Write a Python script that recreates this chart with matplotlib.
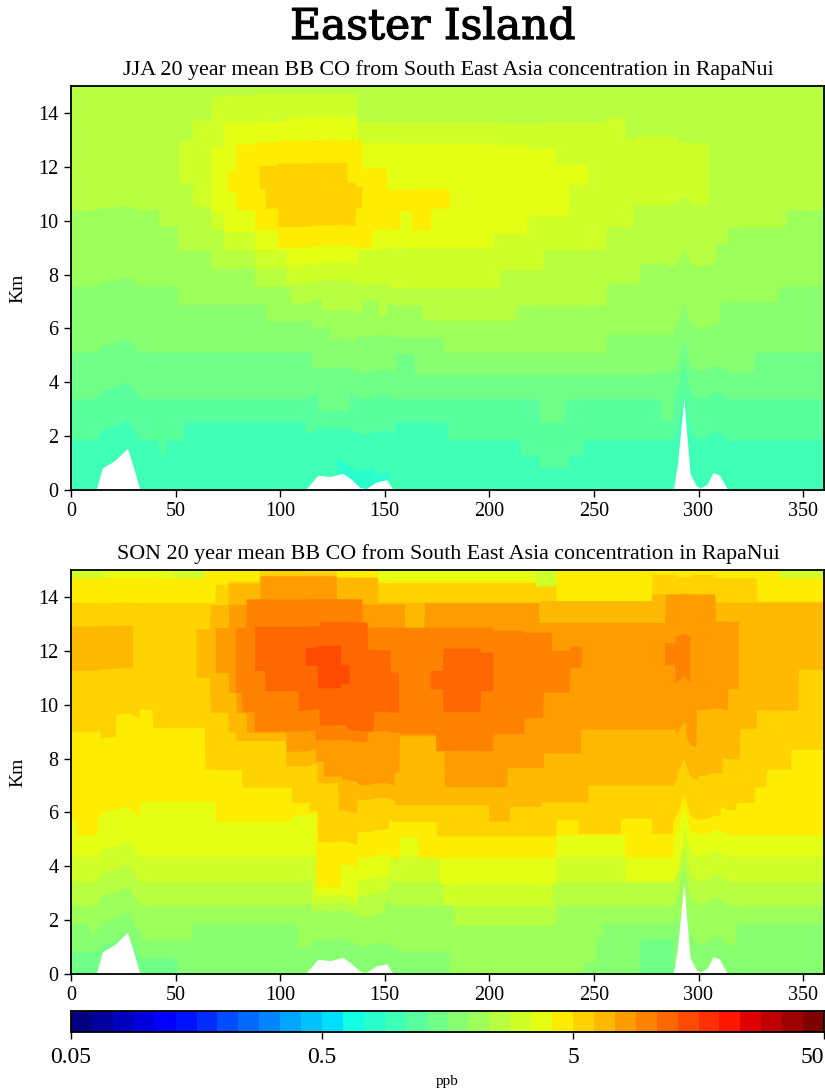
import numpy as np
import matplotlib
matplotlib.use("Agg")
import matplotlib.pyplot as plt
import matplotlib.patheffects as pe
from matplotlib.colors import BoundaryNorm, ListedColormap

nan = float("nan")
W, H = 825, 1091

terrain_lon = [0, 12, 15, 21, 27, 30, 33, 112, 118, 124, 130, 134, 138, 141, 146, 151, 154,
               288, 290, 293, 295, 296, 299, 301, 304, 307, 310, 314, 360]
terrain_km = [0, 0, .82, 1.1, 1.55, .8, 0, 0, .55, .5, .62, .4, .1, .05, .3, .38, 0,
              0, 1, 3.4, 1.5, .6, .15, .08, .2, .65, .55, 0, 0]

x_ticks = [0, 50, 100, 150, 200, 250, 300, 350]
y_ticks = [0, 2, 4, 6, 8, 10, 12, 14]
bar_ticks = [0.05, 0.5, 5, 50]
bar_tick_labels = ["0.05", "0.5", "5", "50"]

# Band limits per longitude span: (band, lon edges of lower limit, lower km, lon edges of upper limit, upper km)
jja_15_lon = [0, 360]; jja_15_low = [0]; jja_15_up = [15]
jja_14_lon = [127, 130, 139, 145, 152]; jja_14_low = [0, 0, 0, 0]; jja_14_up = [.8, .65, .75, .45]
jja_16_lon = [0, 42, 45, 54, 112, 155, 180, 215, 224, 238, 245, 360]
jja_16_low = [1.85, 1.3, 1.85, 2.53, 2.05, 2.53, 1.85, 1.3, .83, 1.3, 1.85]
jja_17_lon = [0, 118, 133, 224, 236, 282, 288, 360]
jja_17_low = [3.38, 2.7, 3.38, 2.53, 3.38, 2.6, 3.38]
jja_18_lon = [0, 115, 155, 164, 280, 327, 360]
jja_18_low = [5.12, 4.35, 5.05, 4.3, 4.4, 5.12]
jja_19_lon = [0, 51, 93, 115, 124, 136, 178, 256, 288, 310, 314, 338, 360]
jja_19_low = [7.57, 6.9, 6.27, 5.88, 5.45, 5.68, 5.1, 5.78, 6.0, 6.9, 7.0, 7.57]
jja_20_lon = [0, 42, 51, 67, 88, 105, 120, 139, 147, 151, 168, 213, 256, 272, 285, 308, 314, 342, 360]
jja_20_low = [10.4, 9.8, 8.9, 8.24, 7.55, 6.95, 6.56, 7.0, 6.4, 6.87, 6.3, 6.87, 7.68, 8.4, 8.3, 9.1, 9.77, 10.4]
jja_21_lon = [51.5, 58, 67, 73, 88, 103, 137, 151, 205, 226, 256, 265, 269, 290, 305]
jja_21_up = [13.0, 13.74, 14.61, 14.67, 14.73, 14.73, 13.68, 13.68, 13.62, 13.68, 13.87, 13.06, 13.13, 12.88]
jja_21_low = [11.39, 10.53, 9.66, 8.92, 8.24, 7.68, 7.6, 7.5, 8.18, 8.92, 9.78, 9.78, 10.59, 10.59]
jja_22_lon = [67, 73, 88, 103, 137, 151, 202, 218, 232, 238, 247]
jja_22_up = [12.75, 13.65, 13.68, 13.87, 12.88, 12.88, 12.82, 12.69, 12.1, 12.1]
jja_22_low = [10.34, 9.6, 8.92, 8.36, 8.9, 9.0, 9.54, 10.2, 10.2, 11.33]
jja_23_lon = [75, 79, 88, 99, 103, 139, 144, 151, 157, 163, 172, 181]
jja_23_up = [11.89, 12.85, 12.94, 13.0, 13.0, 11.95, 11.95, 11.15, 11.15, 11.2, 11.2]
jja_23_low = [11.1, 10.4, 9.66, 9.0, 9.0, 9.0, 9.66, 9.66, 10.34, 9.66, 10.47]
jja_24_lon = [90, 93, 99, 132, 136, 139]
jja_24_up = [12.05, 12.05, 12.14, 11.39, 11.27]
jja_24_low = [11.2, 10.47, 9.78, 9.78, 10.47]

son_17_lon = [0, 360]; son_17_low = [0]; son_17_up = [15]
son_18_lon = [0, 13, 51, 272, 288, 360]; son_18_low = [.83, .6, 0, 1.29, 0]
son_19_lon = [0, 9, 34, 58, 108, 157, 181, 245, 251, 254, 290, 318, 360]
son_19_low = [1.86, 1.5, 1.26, 1.86, 1.0, .83, 0, .46, 1.33, 1.88, 1.08, 1.88]
son_20_lon = [0, 115, 150, 183, 232, 360]; son_20_low = [2.56, 2.1, 2.56, 1.82, 2.56]
son_21_lon = [0, 115, 137, 152, 178, 230, 360]; son_21_low = [3.43, 2.4, 2.9, 3.43, 2.56, 3.43]
son_22_lon = [0, 117, 137, 152, 176, 232, 265, 293, 360]
son_22_low = [4.36, 2.7, 3.5, 4.36, 3.37, 4.36, 3.43, 4.36]
son_22_up_lon = [0, 15, 49, 64, 222, 232, 339, 360]
son_22_up = [14.72, 15, 14.72, 15, 14.41, 15, 14.72]
son_23_lon = [0, 2.5, 12.6, 33, 69, 105.5, 117, 129, 137, 157, 166, 232, 265, 288, 298, 360]
son_23_low = [5.7, 5.16, 5.8, 6.4, 5.66, 5.9, 3.0, 3.86, 4.3, 5.1, 4.33, 5.16, 4.36, 5.1, 5.16]
son_23_up_lon = [0, 64, 147, 222, 232, 339, 360]
son_23_up = [14.72, 15, 14.63, 14.41, 15, 14.72]
son_24_lon = [0, 13.8, 21.4, 32.7, 39, 64, 71.6, 81.7, 105.5, 114, 118, 137, 152, 174.6, 232, 242.5,
              262.6, 277.6, 287.7, 310.3, 317.8, 326.6, 332.4, 344.2, 360]
son_24_low = [9.0, 8.65, 9.5, 9.83, 9.15, 7.6, 7.58, 6.93, 6.36, 5.96, 4.73, 5.26, 5.66, 5.13, 5.72,
              5.22, 5.78, 5.22, 5.72, 6.1, 6.37, 6.95, 7.6, 8.34]
son_24_up_lon = [0, 69, 75, 90, 117, 127, 147, 222, 232, 277.6, 290, 296.5, 308, 328, 360]
son_24_up = [13.79, 14.47, 14.59, 15, 15, 14.72, 14.53, 14.41, 13.85, 14.84, 14.75, 14.84, 14.72, 13.85]
son_25_lon = [0, 30, 60, 66.6, 75.4, 79, 103, 118, 128, 137, 155, 200, 210, 225, 247.5, 290, 300, 311.5,
              320, 328, 348, 360]
son_25_low = [11.25, nan, 11.0, 9.7, 8.96, 8.65, 7.7, 6.96, 5.9, 6.44, 6.27, 5.66, 6.2, 6.37, 7.0, 7.2,
              7.33, 7.97, 9.1, 9.77, 11.3]
son_25_up_lon = [0, 30, 60, 66.6, 75.4, 90.5, 127, 147, 225, 278, 308, 360]
son_25_up = [12.9, nan, 12.8, 13.7, 14.5, 14.78, 14.72, 13.79, 13.85, 14.1, 13.79]
son_26_lon = [69, 75.4, 79, 84, 103, 117, 120.6, 129.4, 137, 154.5, 157, 174.6, 178.4, 208.5, 226, 243.7,
              289, 294, 299, 314, 319]
son_26_low = [11.2, 10.45, 9.7, 8.98, 8.28, 7.8, 7.23, 7.1, 7.02, 7.5, 8.84, 8.28, 6.95, 7.66, 8.22, 9.1,
              8.84, 8.4, 9.8, 10.6]
son_26_up_lon = [69, 75.4, 90.5, 127, 139, 159.5, 169, 223.6, 284, 308, 319]
son_26_up = [12.86, 13.73, 14.78, 13.79, 13.73, 12.86, 13.79, 13.05, 14.1, 13.1]
son_27_lon = [78.6, 82, 88, 117, 142, 157, 174.6, 202, 217, 226, 238.7, 244.5, 284, 289, 296]
son_27_low = [10.45, 9.73, 9.0, 8.59, 8.96, 8.9, 8.28, 8.9, 9.5, 10.45, 11.37, nan, 11.46, 10.76]
son_27_up_lon = [78.6, 84, 139.4, 202, 217, 230, 238.7, 244.5, 284, 289, 296]
son_27_up = [12.86, 13.91, 12.86, 12.74, 12.67, 12.0, 12.15, nan, 12.28, 12.5]
son_28_lon = [88, 93, 103, 109, 119, 132, 145, 157, 172, 178, 196, 202]
son_28_low = [11.25, 10.5, 10.5, 9.77, 9.15, 9.0, 9.7, nan, 10.57, 9.73, 10.5]
son_28_up_lon = [88, 119, 142, 145, 153, 157, 172, 178, 196, 202]
son_28_up = [12.9, 13.05, 12.05, 12.0, 11.19, nan, 11.25, 12.08, 11.93]
son_29_lon = [112, 118, 129, 133]
son_29_low = [11.44, 10.57, 10.73]
son_29_up = [12.12, 12.18, 11.44]

all_up = [0, 360]
top_up = [15]

jja_bands = [
    (15, jja_15_lon, jja_15_low, jja_15_lon, jja_15_up),
    (14, jja_14_lon, jja_14_low, jja_14_lon, jja_14_up),
    (16, jja_16_lon, jja_16_low, all_up, top_up),
    (17, jja_17_lon, jja_17_low, all_up, top_up),
    (18, jja_18_lon, jja_18_low, all_up, top_up),
    (19, jja_19_lon, jja_19_low, all_up, top_up),
    (20, jja_20_lon, jja_20_low, all_up, top_up),
    (21, jja_21_lon, jja_21_low, jja_21_lon, jja_21_up),
    (22, jja_22_lon, jja_22_low, jja_22_lon, jja_22_up),
    (23, jja_23_lon, jja_23_low, jja_23_lon, jja_23_up),
    (24, jja_24_lon, jja_24_low, jja_24_lon, jja_24_up),
]
son_bands = [
    (17, son_17_lon, son_17_low, son_17_lon, son_17_up),
    (18, son_18_lon, son_18_low, all_up, top_up),
    (19, son_19_lon, son_19_low, all_up, top_up),
    (20, son_20_lon, son_20_low, all_up, top_up),
    (21, son_21_lon, son_21_low, all_up, top_up),
    (22, son_22_lon, son_22_low, son_22_up_lon, son_22_up),
    (23, son_23_lon, son_23_low, son_23_up_lon, son_23_up),
    (24, son_24_lon, son_24_low, son_24_up_lon, son_24_up),
    (25, son_25_lon, son_25_low, son_25_up_lon, son_25_up),
    (26, son_26_lon, son_26_low, son_26_up_lon, son_26_up),
    (27, son_27_lon, son_27_low, son_27_up_lon, son_27_up),
    (28, son_28_lon, son_28_low, son_28_up_lon, son_28_up),
    (29, son_29_lon, son_29_low, son_29_lon, son_29_up),
]

plt.rcParams["font.family"] = ["Liberation Serif", "DejaVu Serif"]
fig = plt.figure(figsize=(W / 100, H / 100), dpi=100)
n_bands = 36
band_edges = 0.05 * 10 ** (np.arange(n_bands + 1) / 12)
band_colors = plt.get_cmap("jet")(np.linspace(0, 1, n_bands))


def axes_px(x0, y0, x1, y1):
    return fig.add_axes([x0 / W, 1 - y1 / H, (x1 - x0) / W, (y1 - y0) / H])


def spans(edges, vals, lon):
    edges = np.asarray(edges, float)
    vals = np.asarray(vals, float)
    i = np.clip(np.searchsorted(edges, lon, side="right") - 1, 0, len(vals) - 1)
    out = vals[i]
    out[(lon < edges[0]) | (lon > edges[-1])] = np.nan
    return out


def draw_panel(ax, bands, title):
    lon = np.arange(0, 360.01, 0.25)
    ground = np.interp(lon, terrain_lon, terrain_km)
    for band, lo_lon, lo, up_lon, up in bands:
        low = spans(lo_lon, lo, lon)
        high = spans(up_lon, up, lon)
        low = low + ground * 0.6 * (1 - low / 15) ** 1.5 * (low > 0)
        high = high + ground * 0.6 * np.clip(1 - high / 15, 0, 1) ** 1.5
        ax.fill_between(lon, low, high, where=~(np.isnan(low) | np.isnan(high)),
                        color=band_colors[band], lw=0)
    ax.fill_between(terrain_lon, 0, terrain_km, color="white", lw=0, zorder=3)
    ax.set_xlim(0, 360)
    ax.set_ylim(0, 15)
    ax.set_xticks(x_ticks)
    ax.set_yticks(y_ticks)
    ax.set_ylabel("Km", fontsize=14)
    ax.yaxis.set_label_coords((26 - 71) / 753, 0.5)
    ax.tick_params(labelsize=14.5, length=5, width=1, pad=4)
    for s in ax.spines.values():
        s.set_linewidth(1.3)
        s.set_zorder(5)
    ax.set_title(title, fontsize=15.8, pad=8, x=0.501)


ax1 = axes_px(71, 86, 824, 490)
draw_panel(ax1, jja_bands, "JJA 20 year mean BB CO from South East Asia concentration in RapaNui")
ax2 = axes_px(71, 570, 824, 974)
draw_panel(ax2, son_bands, "SON 20 year mean BB CO from South East Asia concentration in RapaNui")

cax = axes_px(71, 1011, 824, 1032)
norm = BoundaryNorm(band_edges, n_bands)
cax.pcolormesh(band_edges, [0, 1], np.array([band_edges[:-1] * 1.01]), cmap=ListedColormap(band_colors), norm=norm)
cax.set_xscale("log")
cax.set_xlim(0.05, 50)
cax.set_yticks([])
cax.set_xticks(bar_ticks)
cax.set_xticklabels(bar_tick_labels)
cax.minorticks_off()
cax.tick_params(axis="x", which="major", labelsize=17, length=5, width=1, pad=6)
cax.get_xticklabels()[-1].set_ha("right")
for s in cax.spines.values():
    s.set_linewidth(1.3)

fig.text(447 / W, 1 - 1081 / H, "ppb", fontsize=11, ha="center", va="center")
title = fig.text(433 / W, 1 - 27 / H, "Easter Island", fontsize=30.5, ha="center", va="center",
                 family="DejaVu Serif")
title.set_path_effects([pe.withStroke(linewidth=0.9, foreground="black")])
fig.savefig("out.png", dpi=100)
